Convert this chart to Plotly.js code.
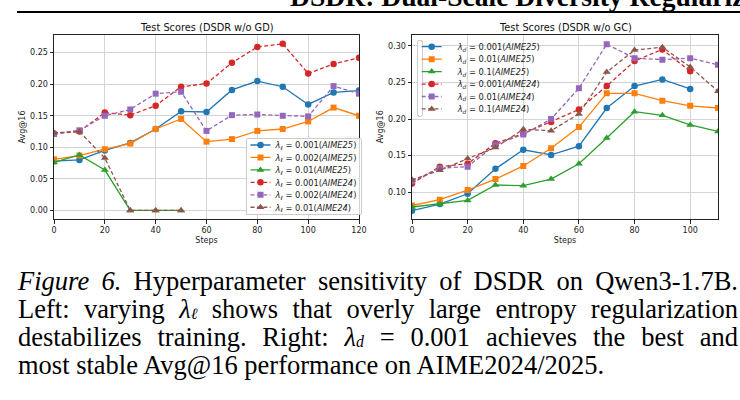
<!DOCTYPE html>
<html>
<head>
<meta charset="utf-8">
<script src="https://cdn.plot.ly/plotly-3.0.1.min.js"></script>
<style>
  html, body { margin: 0; padding: 0; background: #fff; }
  body { width: 740px; height: 400px; overflow: hidden; position: relative; }
  #chart { position: absolute; left: 0; top: 0; width: 740px; height: 400px; }
  .runhead { position: absolute; left: 290px; top: -17px; z-index: 2; white-space: nowrap;
             font: bold 27.6px/28px "Liberation Serif", "Times New Roman", serif; color: #000; }
  .rule { position: absolute; left: 17px; top: 11px; width: 723px; height: 2px; background: #000; z-index: 2; }
  .caption { position: absolute; left: 18px; top: 267px; width: 720px; z-index: 2;
             font: 26.5px/28px "Liberation Serif", "Times New Roman", serif; color: #000; }
  .caption .j { text-align: justify; text-align-last: justify; }
  .caption .lam { font-style: italic; }
  .caption .sb { display: inline-block; font-size: 0.6em; line-height: 0.8em; font-style: italic;
                 transform: translateY(0.06em); }
</style>
</head>
<body>
<div class="runhead">DSDR: Dual-Scale Diversity Regularization for Exploration</div>
<div class="rule"></div>
<div id="chart"></div>
<div class="caption">
  <div class="j"><i>Figure 6.</i> Hyperparameter sensitivity of DSDR on Qwen3-1.7B.</div>
  <div class="j">Left: varying <span class="lam">λ</span><span class="sb">ℓ</span> shows that overly large entropy regularization</div>
  <div class="j">destabilizes training. Right: <span class="lam">λ</span><span class="sb">d</span> = 0.001 achieves the best and</div>
  <div>most stable Avg@16 performance on AIME2024/2025.</div>
</div>
<script>
// ---- Left panel: DSDR w/o GD, varying lambda_l ----
const stepsGD      = [0, 10, 20, 30, 40, 50, 60, 70, 80, 90, 100, 110, 120];
const stepsGDShort = [0, 10, 20, 30, 40, 50];
const gdL001_25 = [0.078, 0.080, 0.095, 0.107, 0.129, 0.157, 0.156, 0.191, 0.205, 0.196, 0.168, 0.187, 0.190];
const gdL002_25 = [0.081, 0.087, 0.097, 0.106, 0.129, 0.145, 0.109, 0.113, 0.126, 0.129, 0.141, 0.163, 0.150];
const gdL01_25  = [0.076, 0.088, 0.064, 0.000, 0.000, 0.000];
const gdL001_24 = [0.122, 0.125, 0.155, 0.151, 0.166, 0.196, 0.201, 0.234, 0.259, 0.264, 0.217, 0.232, 0.242];
const gdL002_24 = [0.121, 0.127, 0.150, 0.160, 0.185, 0.188, 0.126, 0.151, 0.152, 0.150, 0.149, 0.197, 0.185];
const gdL01_24  = [0.123, 0.125, 0.083, 0.000, 0.000, 0.000];

// ---- Right panel: DSDR w/o GC, varying lambda_d ----
const stepsGC      = [0, 10, 20, 30, 40, 50, 60, 70, 80, 90, 100, 110];
const stepsGCShort = [0, 10, 20, 30, 40, 50, 60, 70, 80, 90, 100];
const gcD001_25 = [0.075, 0.084, 0.098, 0.132, 0.158, 0.151, 0.163, 0.215, 0.245, 0.254, 0.241];
const gcD01_25  = [0.082, 0.090, 0.103, 0.118, 0.136, 0.160, 0.189, 0.235, 0.235, 0.225, 0.218, 0.215];
const gcD1_25   = [0.080, 0.084, 0.089, 0.110, 0.109, 0.118, 0.139, 0.174, 0.210, 0.205, 0.192, 0.183];
const gcD001_24 = [0.112, 0.135, 0.139, 0.167, 0.180, 0.196, 0.213, 0.245, 0.279, 0.295, 0.265];
const gcD01_24  = [0.115, 0.133, 0.135, 0.165, 0.179, 0.200, 0.242, 0.302, 0.283, 0.281, 0.283, 0.274];
const gcD1_24   = [0.117, 0.130, 0.146, 0.161, 0.186, 0.184, 0.207, 0.264, 0.294, 0.298, 0.271, 0.238];

// ---- Ticks and labels ----
const xTicksLeft  = [0, 20, 40, 60, 80, 100, 120];
const xTicksRight = [0, 20, 40, 60, 80, 100];
const yTicksLeft  = [0.00, 0.05, 0.10, 0.15, 0.20, 0.25];
const yTicksRight = [0.10, 0.15, 0.20, 0.25, 0.30];
const panelTitles = ['Test Scores (DSDR w/o GD)', 'Test Scores (DSDR w/o GC)'];
const lambdaL = ['0.001', '0.002', '0.01'];
const lambdaD = ['0.001', '0.01', '0.1'];

const C = { blue: '#1f77b4', orange: '#ff7f0e', green: '#2ca02c', red: '#d62728', purple: '#9467bd', brown: '#8c564b' };
const FONT = 'DejaVu Sans, Verdana, sans-serif';
const W = 740, H = 400;

function lbl(sym, val, set) {
  return '<i>λ</i><sub><i>' + sym + '</i></sub> = ' + val + '(<i>' + set + '</i>)';
}

function series(x, y, color, symbol, dashed, name, xa, ya, legend) {
  return {
    type: 'scatter', mode: 'lines+markers', x: x, y: y, name: name,
    xaxis: xa, yaxis: ya, legend: legend,
    line: { color: color, width: 1.3, dash: dashed ? '4px,2.4px' : 'solid' },
    marker: { color: color, symbol: symbol, size: symbol === 'triangle-up' ? 7 : (symbol === 'square' ? 6 : 6.5), line: { width: 0 } }
  };
}

const traces = [
  series(stepsGD,      gdL001_25, C.blue,   'circle',      false, lbl('ℓ', lambdaL[0], 'AIME25'), 'x', 'y', 'legend'),
  series(stepsGD,      gdL002_25, C.orange, 'square',      false, lbl('ℓ', lambdaL[1], 'AIME25'), 'x', 'y', 'legend'),
  series(stepsGDShort, gdL01_25,  C.green,  'triangle-up', false, lbl('ℓ', lambdaL[2], 'AIME25'), 'x', 'y', 'legend'),
  series(stepsGD,      gdL001_24, C.red,    'circle',      true,  lbl('ℓ', lambdaL[0], 'AIME24'), 'x', 'y', 'legend'),
  series(stepsGD,      gdL002_24, C.purple, 'square',      true,  lbl('ℓ', lambdaL[1], 'AIME24'), 'x', 'y', 'legend'),
  series(stepsGDShort, gdL01_24,  C.brown,  'triangle-up', true,  lbl('ℓ', lambdaL[2], 'AIME24'), 'x', 'y', 'legend'),

  series(stepsGCShort, gcD001_25, C.blue,   'circle',      false, lbl('d', lambdaD[0], 'AIME25'), 'x2', 'y2', 'legend2'),
  series(stepsGC,      gcD01_25,  C.orange, 'square',      false, lbl('d', lambdaD[1], 'AIME25'), 'x2', 'y2', 'legend2'),
  series(stepsGC,      gcD1_25,   C.green,  'triangle-up', false, lbl('d', lambdaD[2], 'AIME25'), 'x2', 'y2', 'legend2'),
  series(stepsGCShort, gcD001_24, C.red,    'circle',      true,  lbl('d', lambdaD[0], 'AIME24'), 'x2', 'y2', 'legend2'),
  series(stepsGC,      gcD01_24,  C.purple, 'square',      true,  lbl('d', lambdaD[1], 'AIME24'), 'x2', 'y2', 'legend2'),
  series(stepsGC,      gcD1_24,   C.brown,  'triangle-up', true,  lbl('d', lambdaD[2], 'AIME24'), 'x2', 'y2', 'legend2')
];

const tickFont = { family: FONT, size: 8, color: '#222' };
function axis(extra) {
  return Object.assign({
    showgrid: true, gridcolor: '#d4d4d4', gridwidth: 1,
    zeroline: false, showline: true, mirror: true, linecolor: '#222', linewidth: 1,
    ticks: 'outside', ticklen: 3.5, tickwidth: 1, tickcolor: '#222',
    tickfont: tickFont, automargin: false, fixedrange: true
  }, extra);
}
function legendBox(px, py) {
  return {
    x: px / W, y: 1 - py / H, xanchor: 'left', yanchor: 'top',
    bgcolor: 'rgba(255,255,255,0.8)', bordercolor: '#cccccc', borderwidth: 1,
    font: { family: FONT, size: 8.3, color: '#222' }, itemwidth: 30, traceorder: 'normal'
  };
}

const layout = {
  width: W, height: H,
  margin: { l: 0, r: 0, t: 0, b: 0 },
  paper_bgcolor: 'rgba(0,0,0,0)', plot_bgcolor: '#ffffff',
  showlegend: true,
  xaxis: axis({ domain: [54 / W, 359 / W], range: [0, 120], tickvals: xTicksLeft, anchor: 'y',
                title: { text: 'Steps', font: tickFont, standoff: 3 } }),
  yaxis: axis({ domain: [181 / H, 365 / H], range: [-0.0136, 0.278], tickvals: yTicksLeft, tickformat: '.2f', anchor: 'x',
                title: { text: 'Avg@16', font: tickFont, standoff: 3 } }),
  xaxis2: axis({ domain: [412 / W, 718 / W], range: [0, 110], tickvals: xTicksRight, anchor: 'y2',
                 title: { text: 'Steps', font: tickFont, standoff: 3 } }),
  yaxis2: axis({ domain: [181 / H, 365.5 / H], range: [0.0636, 0.3153], tickvals: yTicksRight, tickformat: '.2f', anchor: 'x2',
                 title: { text: 'Avg@16', font: tickFont, standoff: 3 } }),
  legend: legendBox(245.5, 138.3),
  legend2: legendBox(416.7, 40),
  annotations: [
    { text: panelTitles[0], xref: 'paper', yref: 'paper', x: 206.5 / W, y: 1 - 27 / H, xanchor: 'center', yanchor: 'middle',
      showarrow: false, font: { family: FONT, size: 9.8, color: '#111' } },
    { text: panelTitles[1], xref: 'paper', yref: 'paper', x: 565 / W, y: 1 - 27 / H, xanchor: 'center', yanchor: 'middle',
      showarrow: false, font: { family: FONT, size: 9.8, color: '#111' } }
  ]
};

// Tighter, matplotlib-style legend rows: short handle, text close to the handle.
function tightenLegends(gd, rowH, pad) {
  gd.querySelectorAll('g.infolayer > g').forEach(function (lg) {
    if (!/^legend\d*$/.test(lg.getAttribute('class') || '')) return;
    var items = lg.querySelectorAll('g.traces');
    var maxRight = 0;
    items.forEach(function (it, i) {
      it.setAttribute('transform', 'translate(1,' + (pad + i * rowH) + ')');
      var ln = it.querySelector('.legendlines path');
      if (ln) ln.setAttribute('d', 'M4,0h20');
      var pt = it.querySelector('.legendpoints path');
      if (pt) pt.setAttribute('transform', 'translate(14,0)');
      var tx = it.querySelector('text.legendtext');
      if (tx) {
        tx.setAttribute('x', 29);
        tx.querySelectorAll('tspan.line').forEach(function (t) { t.setAttribute('x', 29); });
        maxRight = Math.max(maxRight, 29 + tx.getBBox().width);
      }
      var tg = it.querySelector('rect.legendtoggle');
      if (tg) tg.setAttribute('height', rowH);
    });
    var bg = lg.querySelector('rect.bg');
    if (bg) {
      bg.setAttribute('width', maxRight + 5);
      bg.setAttribute('height', 2 * pad + (items.length - 1) * rowH);
      bg.setAttribute('rx', 2); bg.setAttribute('ry', 2);
    }
  });
}

const gd = document.getElementById('chart');
Plotly.newPlot(gd, traces, layout, { staticPlot: true, displayModeBar: false, responsive: false })
  .then(function () { tightenLegends(gd, 12.45, 6.7); });
</script>
</body>
</html>
